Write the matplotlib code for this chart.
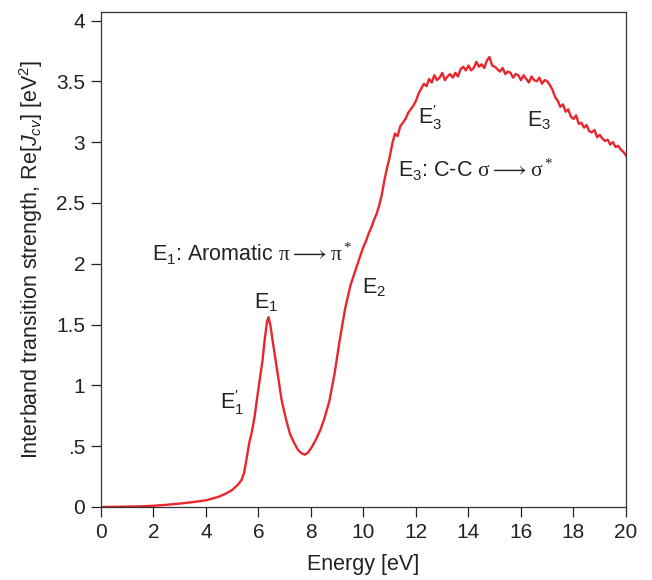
import matplotlib
matplotlib.use("Agg")
import matplotlib.pyplot as plt

plt.rcParams['font.family'] = ['Liberation Sans', 'DejaVu Sans']
plt.rcParams['mathtext.fontset'] = 'custom'
plt.rcParams['mathtext.rm'] = 'Liberation Serif'
plt.rcParams['mathtext.it'] = 'Liberation Sans:italic'
plt.rcParams['mathtext.sf'] = 'Liberation Sans'

# ---- data ----
energy_low = [0.0, 0.5, 1.0, 1.5, 2.0, 2.5, 3.0, 3.5, 4.0, 4.5, 4.8, 5.0, 5.2, 5.35,
              5.45, 5.55, 5.65, 5.75, 5.85, 5.95, 6.05, 6.15, 6.25, 6.33, 6.38, 6.45,
              6.55, 6.7, 6.88, 7.05, 7.2, 7.35, 7.5, 7.65, 7.77, 7.9, 8.05, 8.2, 8.35,
              8.5, 8.7, 8.9, 9.1, 9.3, 9.5, 9.7, 9.9]
value_low = [0.000, 0.001, 0.003, 0.005, 0.010, 0.018, 0.028, 0.040, 0.055, 0.085, 0.115,
             0.14, 0.18, 0.22, 0.28, 0.40, 0.53, 0.62, 0.74, 0.90, 1.05, 1.20, 1.40, 1.53,
             1.56, 1.50, 1.35, 1.14, 0.88, 0.72, 0.60, 0.53, 0.47, 0.44, 0.43, 0.45, 0.50,
             0.56, 0.63, 0.72, 0.87, 1.10, 1.38, 1.63, 1.82, 1.95, 2.08]

energy_high = [10.0, 10.1, 10.2, 10.3, 10.4, 10.5, 10.6, 10.7, 10.8, 10.9,
               11.0, 11.1, 11.2, 11.3, 11.4, 11.5, 11.6, 11.7, 11.8, 11.9,
               12.0, 12.1, 12.2, 12.3, 12.4, 12.5, 12.6, 12.7, 12.8, 12.9,
               13.0, 13.1, 13.2, 13.3, 13.4, 13.5, 13.6, 13.7, 13.8, 13.9,
               14.0, 14.1, 14.2, 14.3, 14.4, 14.5, 14.6, 14.7, 14.8, 14.9,
               15.0, 15.1, 15.2, 15.3, 15.4, 15.5, 15.6, 15.7, 15.8, 15.9,
               16.0, 16.1, 16.2, 16.3, 16.4, 16.5, 16.6, 16.7, 16.8, 16.9,
               17.0, 17.1, 17.2, 17.3, 17.4, 17.5, 17.6, 17.7, 17.8, 17.9,
               18.0, 18.1, 18.2, 18.3, 18.4, 18.5, 18.6, 18.7, 18.8, 18.9,
               19.0, 19.1, 19.2, 19.3, 19.4, 19.5, 19.6, 19.7, 19.8, 19.9, 20.0]
value_high = [2.14, 2.19, 2.25, 2.30, 2.36, 2.41, 2.48, 2.57, 2.69, 2.79,
              2.88, 2.99, 3.07, 3.05, 3.13, 3.16, 3.19, 3.24, 3.27, 3.30,
              3.34, 3.40, 3.44, 3.48, 3.46, 3.52, 3.49, 3.55, 3.51, 3.53,
              3.57, 3.51, 3.54, 3.56, 3.53, 3.57, 3.54, 3.60, 3.62, 3.59,
              3.63, 3.59, 3.61, 3.66, 3.62, 3.64, 3.61, 3.67, 3.70, 3.63,
              3.62, 3.60, 3.58, 3.61, 3.56, 3.58, 3.57, 3.53, 3.56, 3.55,
              3.51, 3.55, 3.52, 3.49, 3.54, 3.51, 3.50, 3.53, 3.48, 3.51,
              3.50, 3.47, 3.43, 3.37, 3.34, 3.29, 3.31, 3.25, 3.27, 3.21,
              3.19, 3.22, 3.15, 3.16, 3.12, 3.14, 3.09, 3.08, 3.10, 3.04,
              3.06, 3.03, 3.01, 3.02, 2.98, 3.00, 2.96, 2.97, 2.94, 2.92, 2.89]

x_ticks = [0, 2, 4, 6, 8, 10, 12, 14, 16, 18, 20]
y_ticks = [0, 0.5, 1, 1.5, 2, 2.5, 3, 3.5, 4]
y_tick_labels = ['0', '.5', '1', '1.5', '2', '2.5', '3', '3.5', '4']

energy = energy_low + energy_high
value = value_low + value_high

fig = plt.figure(figsize=(6.52, 5.8), dpi=100)
ax = fig.add_axes([0.1549, 0.1259, 0.8052, 0.8534])
ax.plot(energy, value, color='#e8262c', lw=1.7)

ax.set_xlim(0, 20)
ax.set_ylim(0, 4.07)
ax.set_xticks(x_ticks)
ax.set_yticks(y_ticks)
ax.set_yticklabels(y_tick_labels)
ax.tick_params(direction='out', length=7.5, width=0.9, labelsize=15, colors='#222222', pad=4)
for s in ax.spines.values():
    s.set_linewidth(0.9)
    s.set_color('#333333')

ax.set_xlabel('Energy [eV]', fontsize=15.5, labelpad=9, color='#222222')
ax.set_ylabel(r'Interband transition strength, Re[$\mathit{J_{cv}}$] [eV$^\mathsf{2}$]',
              fontsize=15.5, labelpad=8, color='#222222')

fs = 15.5
tc = '#222222'
ax.text(1.94, 2.08, r'E$_\mathsf{1}$: Aromatic $\mathrm{\pi} \longrightarrow \mathrm{\pi}^*$',
        fontsize=fs, color=tc, ha='left', va='center')
ax.text(6.29, 1.68, r'E$_\mathsf{1}$', fontsize=fs, color=tc, ha='center', va='center')
ax.text(5.0, 0.86, r"E$_\mathsf{1}^{\prime}$", fontsize=fs, color=tc, ha='center', va='center')
ax.text(9.94, 1.80, r'E$_\mathsf{2}$', fontsize=fs, color=tc, ha='left', va='center')
ax.text(12.53, 3.20, r"E$_\mathsf{3}^{\prime}$", fontsize=fs, color=tc, ha='center', va='center')
ax.text(16.69, 3.18, r'E$_\mathsf{3}$', fontsize=fs, color=tc, ha='center', va='center')
ax.text(11.31, 2.77, r'E$_\mathsf{3}$: C-C $\mathrm{\sigma} \longrightarrow \mathrm{\sigma}^*$',
        fontsize=fs, color=tc, ha='left', va='center')

fig.savefig('out.png', dpi=100)
